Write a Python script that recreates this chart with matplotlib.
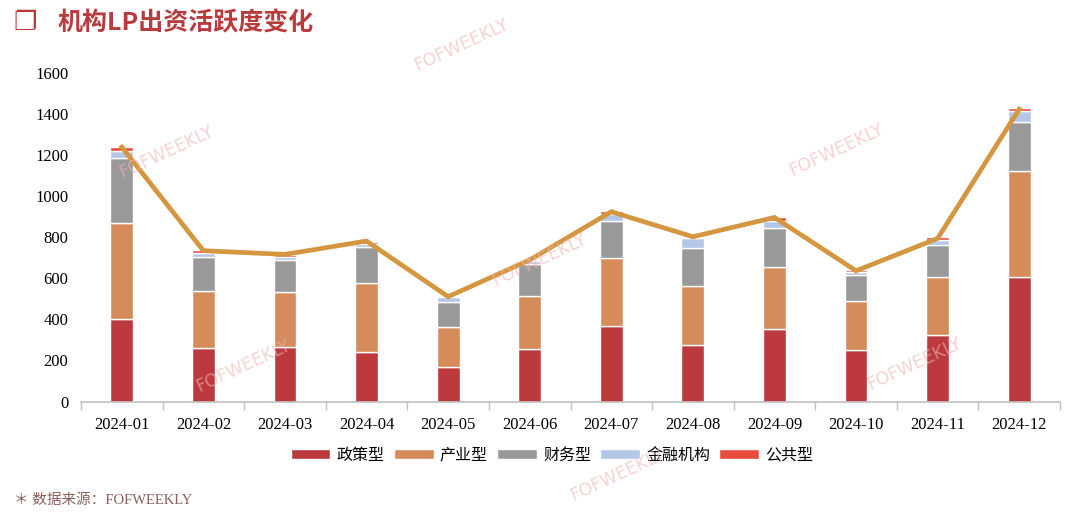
import matplotlib
matplotlib.use("Agg")
import matplotlib.pyplot as plt
import numpy as np

months = ["2024-01", "2024-02", "2024-03", "2024-04", "2024-05", "2024-06",
          "2024-07", "2024-08", "2024-09", "2024-10", "2024-11", "2024-12"]
policy = [404, 262, 267, 243, 167, 256, 368, 277, 352, 251, 324, 608]
industry = [468, 276, 265, 333, 194, 256, 329, 284, 302, 239, 284, 516]
financial = [313, 164, 156, 175, 122, 158, 181, 188, 190, 126, 156, 237]
fin_inst = [37, 23, 17, 19, 28, 16, 35, 46, 37, 16, 23, 55]
public = [20, 13, 8, 8, 2, 5, 15, 5, 18, 10, 13, 15]
total_line = [1240, 735, 717, 782, 511, 690, 925, 803, 897, 637, 795, 1425]
yticks = [0, 200, 400, 600, 800, 1000, 1200, 1400, 1600]

series = [("政策型", policy, "#BC3A3E"),
          ("产业型", industry, "#D68B5A"),
          ("财务型", financial, "#999999"),
          ("金融机构", fin_inst, "#B4C7E7"),
          ("公共型", public, "#E84C3D")]

CJK = ["Noto Sans CJK SC", "DejaVu Sans"]
SERIF = ["Liberation Serif", "Noto Sans CJK SC"]

fig = plt.figure(figsize=(10.8, 5.12), dpi=100)
ax = fig.add_axes([0.075, 0.2158, 0.9065, 0.6412])

x = np.arange(len(months))
bottom = np.zeros(len(months))
handles = []
for name, vals, col in series:
    b = ax.bar(x, vals, width=0.28, bottom=bottom, color=col, edgecolor="white",
               linewidth=1.0, label=name, zorder=2)
    handles.append(b)
    bottom += np.array(vals)

ax.plot(x, total_line, color="#D4963F", linewidth=3.4, zorder=3, solid_joinstyle="miter")

ax.set_xlim(-0.5, len(months) - 0.5)
ax.set_ylim(0, 1600)
ax.set_yticks(yticks)
ax.set_yticklabels([str(v) for v in yticks], family=SERIF, fontsize=12)
ax.set_xticks(x)
ax.set_xticklabels(months, family=SERIF, fontsize=12)
ax.tick_params(axis="y", length=0, pad=9)
ax.tick_params(axis="x", length=0, pad=11)
# category separators on x-axis
ax.set_xticks(np.arange(-0.5, len(months)), minor=True)
ax.tick_params(axis="x", which="minor", length=6, color="#BFBFBF", width=1)
for s in ["top", "right", "left"]:
    ax.spines[s].set_visible(False)
ax.spines["bottom"].set_color("#BFBFBF")
ax.spines["bottom"].set_linewidth(1.2)

leg = fig.legend(handles=handles, loc="center", bbox_to_anchor=(0.511, 0.111), ncol=5,
                 frameon=False, prop={"family": CJK, "size": 11.5}, handlelength=2.5,
                 handleheight=0.6, columnspacing=0.55, handletextpad=0.4)

# title
fig.text(0.012, 0.955, "❐", fontsize=19, color="#B83B3E", family=["DejaVu Sans"],
         va="center", ha="left")
fig.text(0.053, 0.955, "机构LP出资活跃度变化", fontsize=18, color="#B83B3E",
         family=CJK, fontweight="bold", va="center", ha="left")

# footer
fig.text(0.013, 0.023, "＊ 数据来源：FOFWEEKLY", fontsize=10.5, color="#8C5E5E",
         family=SERIF, va="center", ha="left")

# watermarks
for (px, py) in [(461, 45), (166, 152), (243, 366), (539, 260), (836, 150), (914, 364), (617, 475)]:
    fig.text(px / 1080, 1 - py / 512, "FOFWEEKLY", fontsize=12.5, color="#F0B4B4",
             alpha=0.6, rotation=25, ha="center", va="center", family=["DejaVu Sans"],
             zorder=10)

fig.savefig("out.png", dpi=100)
